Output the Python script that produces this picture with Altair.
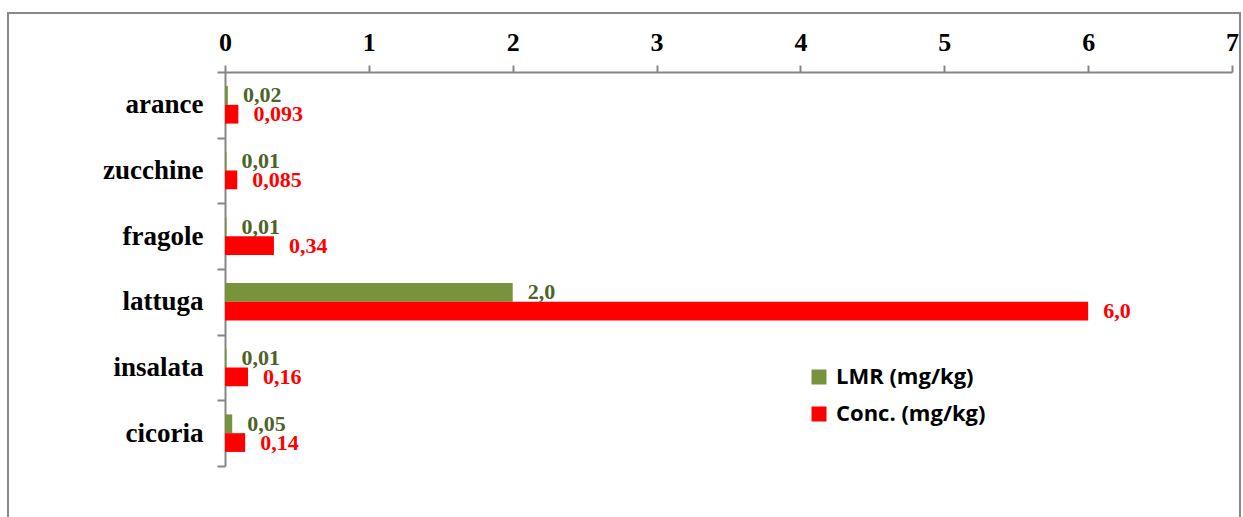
import altair as alt
import pandas as pd

categories = ["arance", "zucchine", "fragole", "lattuga", "insalata", "cicoria"]
lmr_values = [0.02, 0.01, 0.01, 2.0, 0.01, 0.05]
conc_values = [0.093, 0.085, 0.34, 6.0, 0.16, 0.14]
lmr_labels = ["0,02", "0,01", "0,01", "2,0", "0,01", "0,05"]
conc_labels = ["0,093", "0,085", "0,34", "6,0", "0,16", "0,14"]
series_names = ["LMR (mg/kg)", "Conc. (mg/kg)"]
x_ticks = [0, 1, 2, 3, 4, 5, 6, 7]

rows = []
for c, v, l in zip(categories, lmr_values, lmr_labels):
    rows.append({"cat": c, "series": series_names[0], "value": v, "label": l})
for c, v, l in zip(categories, conc_values, conc_labels):
    rows.append({"cat": c, "series": series_names[1], "value": v, "label": l})
df = pd.DataFrame(rows)

SERIF = "Liberation Serif"

y_enc = alt.Y("cat:N", sort=categories, title=None,
              scale=alt.Scale(paddingInner=0, paddingOuter=0),
              axis=alt.Axis(labelFont=SERIF, labelFontWeight="bold", labelFontSize=27,
                            labelColor="black", labelPadding=14, tickSize=8,
                            tickBand="extent", tickColor="#868686", tickWidth=2,
                            domainColor="#868686", domainWidth=2, grid=False))
yoff = alt.YOffset("series:N", sort=series_names,
                   scale=alt.Scale(paddingInner=0, paddingOuter=0.75))
x_enc = alt.X("value:Q", title=None,
              scale=alt.Scale(domain=[0, 7], nice=False, zero=True),
              axis=alt.Axis(orient="top", values=x_ticks, format="d", labelFont=SERIF,
                            labelFontWeight="bold", labelFontSize=26, labelColor="black",
                            labelPadding=10, tickSize=7, tickColor="#868686", tickWidth=2,
                            domainColor="#868686", domainWidth=2, grid=False,
                            labelFlush=False))

bars = alt.Chart(df).mark_bar().encode(
    y=y_enc, yOffset=yoff, x=x_enc,
    color=alt.Color("series:N", sort=series_names,
                    scale=alt.Scale(domain=series_names, range=["#77933C", "#FF0000"]),
                    legend=alt.Legend(title=None, orient="none", legendX=583, legendY=294,
                                      symbolType="square", symbolSize=225,
                                      symbolStrokeWidth=0, labelFont="Open Sans",
                                      labelFontWeight="bold", labelFontSize=22,
                                      labelColor="black", rowPadding=15, padding=0,
                                      labelOffset=6)),
)

texts = alt.Chart(df).mark_text(align="left", baseline="middle", dx=15,
                                font=SERIF, fontWeight="bold", fontSize=22).encode(
    y=y_enc, yOffset=yoff, x=x_enc,
    text="label:N",
    color=alt.Color("series:N", sort=series_names,
                    scale=alt.Scale(domain=series_names, range=["#4F6228", "#FF0000"]),
                    legend=None),
)

frame = alt.Chart(pd.DataFrame({"a": [0]})).mark_rect(
    fill="transparent", stroke="#898989", strokeWidth=2).encode(
    x=alt.value(-217), x2=alt.value(1015), y=alt.value(-59), y2=alt.value(600))

chart = alt.layer(frame, bars, texts).resolve_scale(color="independent").properties(
    width=1007, height=394, background="white",
    autosize=alt.AutoSizeParams(type="none"),
    padding={"left": 225, "top": 72, "right": 11, "bottom": 51},
).configure_view(stroke=None).configure_axis(grid=False)

chart.save("out.html", embed_options={"renderer": "svg", "actions": False})
